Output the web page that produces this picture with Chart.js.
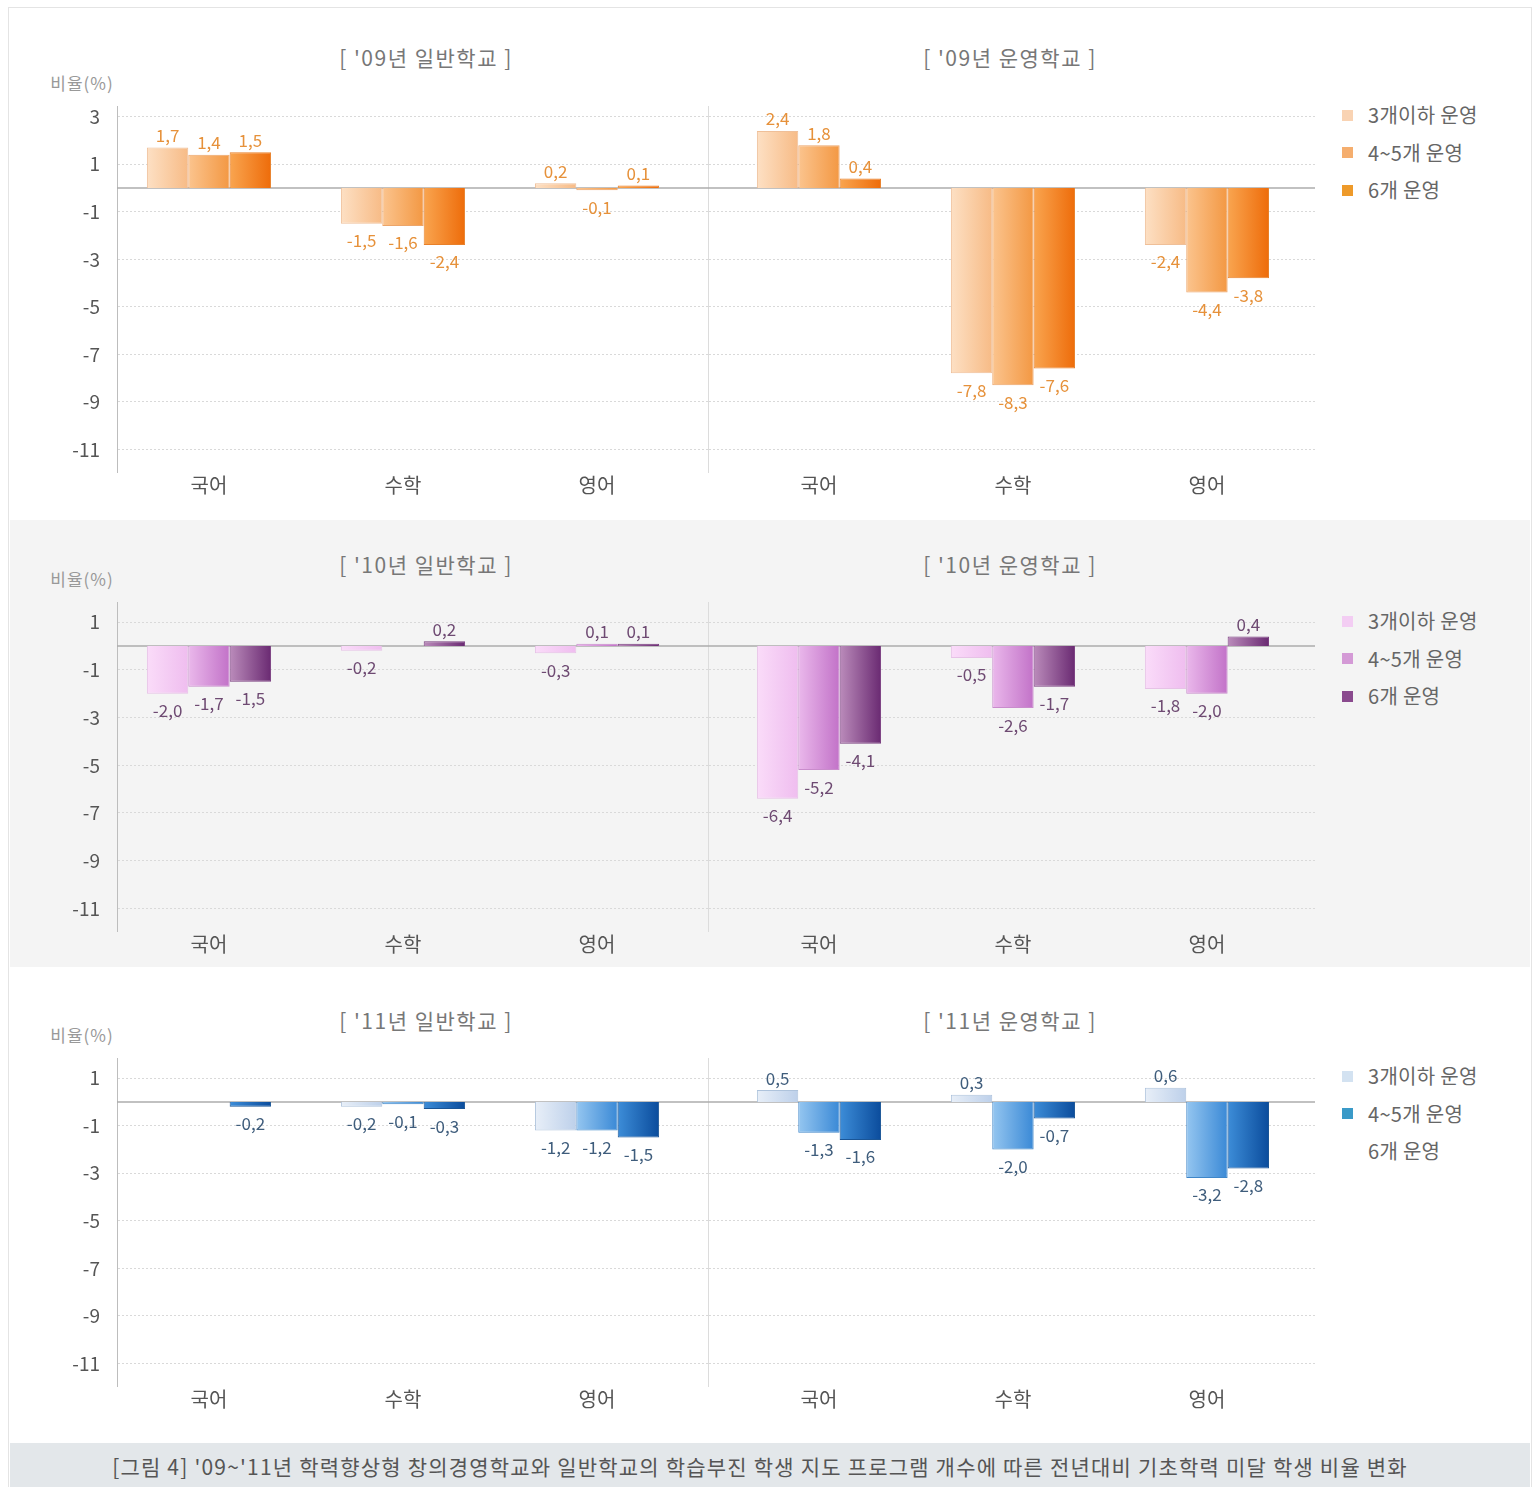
<!DOCTYPE html>
<html>
<head>
<meta charset="utf-8">
<script src="https://cdn.jsdelivr.net/npm/chart.js@4.4.1/dist/chart.umd.min.js"></script>
<style>
  body { margin: 0; background: #fff; font-family: "Noto Sans CJK KR", "Noto Sans", sans-serif; }
  #page { position: relative; width: 1539px; height: 1487px; overflow: hidden; }
  .abs { position: absolute; }
  .txt { position: absolute; white-space: nowrap; line-height: 1; transform: translate(-50%, -50%); }
  .box { position: absolute; }
</style>
</head>
<body>
<div id="page">
  <div class="abs" style="left:8px;top:7px;width:1522px;height:1490px;border:1px solid #e4e4e4;"></div>
  <div class="abs" style="left:10px;top:520px;width:1520px;height:447px;background:#f4f4f4;"></div>
  <div class="abs" style="left:10px;top:1443px;width:1520px;height:44px;background:#e3e7ea;"></div>
</div>
<script>
// categories, series, ticks
const subjects = ['국어', '수학', '영어'];
const seriesNames = ['3개이하 운영', '4~5개 운영', '6개 운영'];
const ticksTop = [3, 1, -1, -3, -5, -7, -9, -11];
const ticksRest = [1, -1, -3, -5, -7, -9, -11];
const unitLabel = '비율(%)';
const caption = "[그림 4] '09~'11년 학력향상형 창의경영학교와 일반학교의 학습부진 학생 지도 프로그램 개수에 따른 전년대비 기초학력 미달 학생 비율 변화";
const titles09 = ["[ '09년 일반학교 ]", "[ '09년 운영학교 ]"];
const titles10 = ["[ '10년 일반학교 ]", "[ '10년 운영학교 ]"];
const titles11 = ["[ '11년 일반학교 ]", "[ '11년 운영학교 ]"];

// '09
const gen09Low = [1.7, -1.5, 0.2];
const gen09Mid = [1.4, -1.6, -0.1];
const gen09High = [1.5, -2.4, 0.1];
const op09Low = [2.4, -7.8, -2.4];
const op09Mid = [1.8, -8.3, -4.4];
const op09High = [0.4, -7.6, -3.8];
// '10
const gen10Low = [-2.0, -0.2, -0.3];
const gen10Mid = [-1.7, null, 0.1];
const gen10High = [-1.5, 0.2, 0.1];
const op10Low = [-6.4, -0.5, -1.8];
const op10Mid = [-5.2, -2.6, -2.0];
const op10High = [-4.1, -1.7, 0.4];
// '11
const gen11Low = [null, -0.2, -1.2];
const gen11Mid = [null, -0.1, -1.2];
const gen11High = [-0.2, -0.3, -1.5];
const op11Low = [0.5, 0.3, 0.6];
const op11Mid = [-1.3, -2.0, -3.2];
const op11High = [-1.6, -0.7, -2.8];

// styles
const palettes = [
  { shades: [['#fde0c4', '#f7bb86'], ['#fbc48e', '#f39843'], ['#f9a550', '#ee6c0a']],
    border: ['#efbf98', '#eca56a', '#e8802a'], legend: ['#f9d3b3', '#f5ae6e', '#ee9a2a'], label: '#e6913a' },
  { shades: [['#fadcf9', '#efbdef'], ['#eab8eb', '#c272c8'], ['#bb8cbb', '#6a2a72']],
    border: ['#e6c2e6', '#c98ccc', '#7a3f80'], legend: ['#f3cdf3', '#d49ad6', '#8a4a8e'], label: '#6e4a72' },
  { shades: [['#e8eff8', '#bdd0ea'], ['#95c6f0', '#3a89d6'], ['#3d8dd8', '#0b4c9c']],
    border: ['#aec3dc', '#3f86c8', '#1a5596'], legend: ['#d3e2f1', '#3a9ac8', 'transparent'], label: '#3f5d7c' }
];

const panels = [
  { titles: titles09, ticks: ticksTop, left: [gen09Low, gen09Mid, gen09High], right: [op09Low, op09Mid, op09High],
    pal: palettes[0], canvasTop: 96, canvasH: 402, yMax: 3.45, titleY: 57, unitY: 82, legendY: 115 },
  { titles: titles10, ticks: ticksRest, left: [gen10Low, gen10Mid, gen10High], right: [op10Low, op10Mid, op10High],
    pal: palettes[1], canvasTop: 592, canvasH: 365, yMax: 1.85, titleY: 564, unitY: 578, legendY: 621 },
  { titles: titles11, ticks: ticksRest, left: [gen11Low, gen11Mid, gen11High], right: [op11Low, op11Mid, op11High],
    pal: palettes[2], canvasTop: 1048, canvasH: 364, yMax: 1.85, titleY: 1020, unitY: 1034, legendY: 1076 }
];
const yMin = -11.95;
// category window of each half: [start offset, span] in category units
const leftWindow = [-0.474, 3.046];
const rightWindow = [-0.572, 3.129];

Chart.defaults.font.family = '"Noto Sans CJK KR", "Noto Sans", sans-serif';

const fmt = v => v.toFixed(1).replace('.', ',');

// horizontal gradient on each bar
const shadePlugin = {
  id: 'shade',
  beforeDatasetsDraw(chart) {
    const ctx = chart.ctx;
    chart.data.datasets.forEach((ds, i) => {
      chart.getDatasetMeta(i).data.forEach(el => {
        if (!isFinite(el.x) || !isFinite(el.width)) return;
        const l = el.x - el.width / 2;
        const g = ctx.createLinearGradient(l, 0, l + el.width, 0);
        g.addColorStop(0, ds.shade[0]);
        g.addColorStop(1, ds.shade[1]);
        el.options = Object.assign({}, el.options, { backgroundColor: g });
      });
    });
  }
};

const zeroLine = {
  id: 'zeroLine',
  beforeDatasetsDraw(chart) {
    const { ctx, chartArea } = chart;
    const y0 = chart.scales.y.getPixelForValue(0);
    ctx.save();
    ctx.strokeStyle = '#adadad';
    ctx.lineWidth = 1.5;
    ctx.beginPath();
    ctx.moveTo(chartArea.left, y0);
    ctx.lineTo(chartArea.right, y0);
    ctx.stroke();
    ctx.restore();
  }
};

const valueLabels = {
  id: 'valueLabels',
  afterDatasetsDraw(chart) {
    const ctx = chart.ctx;
    ctx.save();
    ctx.font = '17px "Noto Sans CJK KR", "Noto Sans", sans-serif';
    ctx.textAlign = 'center';
    ctx.textBaseline = 'middle';
    chart.data.datasets.forEach((ds, i) => {
      ctx.fillStyle = ds.labelColor;
      chart.getDatasetMeta(i).data.forEach((el, j) => {
        const v = ds.data[j];
        if (v == null) return;
        ctx.fillText(fmt(v), el.x, v >= 0 ? el.y - 12 : el.y + 17);
      });
    });
    ctx.restore();
  }
};

const page = document.getElementById('page');

function addText(text, x, y, css) {
  const d = document.createElement('div');
  d.className = 'txt';
  d.textContent = text;
  d.style.left = x + 'px';
  d.style.top = y + 'px';
  d.style.cssText += css;
  page.appendChild(d);
}

function makeChart(p, series, left, width, showAxis) {
  const wrap = document.createElement('div');
  wrap.className = 'abs';
  wrap.style.left = left + 'px';
  wrap.style.top = p.canvasTop + 'px';
  wrap.style.width = width + 'px';
  wrap.style.height = p.canvasH + 'px';
  const cv = document.createElement('canvas');
  wrap.appendChild(cv);
  page.appendChild(wrap);
  const win = showAxis ? leftWindow : rightWindow;

  new Chart(cv, {
    type: 'bar',
    data: {
      labels: subjects,
      datasets: series.map((arr, k) => ({
        label: seriesNames[k],
        data: arr,
        shade: p.pal.shades[k],
        labelColor: p.pal.label,
        backgroundColor: p.pal.shades[k][1],
        borderColor: p.pal.border[k],
        borderWidth: 1,
        categoryPercentage: 0.64,
        barPercentage: 1
      }))
    },
    options: {
      responsive: true,
      maintainAspectRatio: false,
      animation: false,
      layout: { padding: { top: 10, right: showAxis ? 0 : 5, left: 0, bottom: 0 } },
      plugins: { legend: { display: false }, tooltip: { enabled: false } },
      scales: {
        x: {
          grid: { display: false, drawTicks: false },
          border: { display: false },
          ticks: { color: '#555', font: { size: 20 }, padding: 1 },
          afterBuildTicks: s => { s._startValue = win[0]; s._valueRange = win[1]; },
          afterFit: s => { s.height = 26; s.paddingLeft = 0; s.paddingRight = 0; }
        },
        y: {
          min: yMin,
          max: p.yMax,
          afterBuildTicks: s => { s.ticks = p.ticks.map(v => ({ value: v })); },
          grid: { color: '#d9d9d9', lineWidth: 1, drawTicks: false },
          border: { display: true, color: showAxis ? '#bdbdbd' : '#dcdcdc', width: 1, dash: [2, 2] },
          ticks: { display: showAxis, color: '#555', font: { size: 19 }, padding: 17 },
          afterFit: s => { s.width = showAxis ? 97 : 0; s.paddingTop = 0; s.paddingBottom = 0; }
        }
      }
    },
    plugins: [shadePlugin, zeroLine, valueLabels]
  });
}

panels.forEach(p => {
  addText(p.titles[0], 426, p.titleY, 'font-size:21px;letter-spacing:1.5px;color:#777;');
  addText(p.titles[1], 1010, p.titleY, 'font-size:21px;letter-spacing:1.5px;color:#777;');
  addText(unitLabel, 82, p.unitY, 'font-size:17px;letter-spacing:1px;color:#999;');
  makeChart(p, p.left, 20, 688, true);
  makeChart(p, p.right, 708, 612, false);
  seriesNames.forEach((name, k) => {
    const y = p.legendY + 37.5 * k;
    const sq = document.createElement('div');
    sq.className = 'box';
    sq.style.cssText = 'left:1342px;top:' + (y - 5.5) + 'px;width:11px;height:11px;background:' + p.pal.legend[k] + ';';
    page.appendChild(sq);
    const t = document.createElement('div');
    t.className = 'abs';
    t.textContent = name;
    t.style.cssText = 'left:1368px;top:' + y + 'px;transform:translateY(-50%);font-size:20px;letter-spacing:0.3px;line-height:1;color:#666;white-space:nowrap;';
    page.appendChild(t);
  });
});

addText(caption, 760, 1466, 'font-size:21px;letter-spacing:1.2px;color:#555;');
</script>
</body>
</html>
